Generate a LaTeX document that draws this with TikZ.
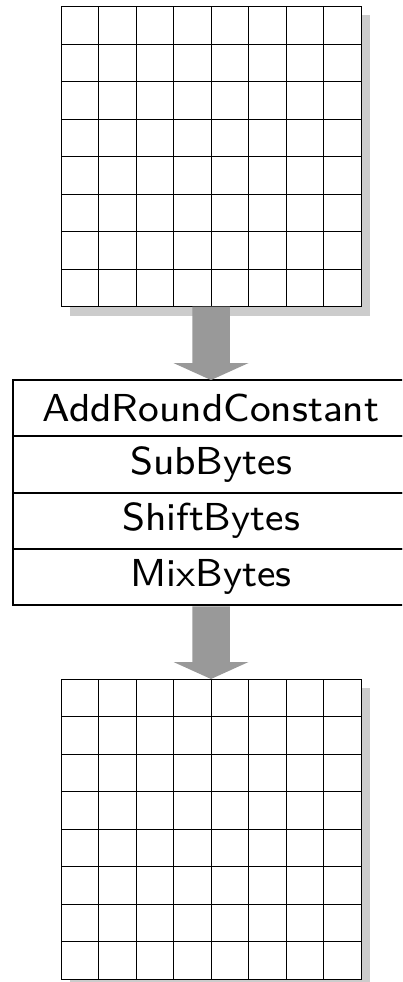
\documentclass[tikz,border=0pt]{standalone}
\usepackage{fontspec}
\usetikzlibrary{calc}
\newfontfamily\stepfont{lmsans8-regular.otf}
\definecolor{shadowgray}{HTML}{CCCCCC}
\definecolor{arrowgray}{HTML}{999999}
\tikzset{
  statebox/.style={draw=black, line width=0.8pt, fill=white, minimum size=300pt, inner sep=0pt, outer sep=0pt},
  gridline/.style={draw=black, line width=0.7pt},
  stepbox/.style={draw=black, line width=2.2pt, minimum width=396pt, minimum height=56.3pt, inner sep=0pt, outer sep=0pt,
                  font=\stepfont\fontsize{39}{39}\selectfont},
  flowarrow/.style={fill=arrowgray}
}
\begin{document}
\begin{tikzpicture}[x=1pt, y=-1pt]
  \useasboundingbox (0,0) rectangle (402,982);
  \clip (0,0) rectangle (402,982);

  % input and output state matrices
  \foreach \name/\cy in {gin/156.5, gout/829} {
    \fill[shadowgray] (220,\cy-141) rectangle (370,\cy+159);
    \fill[shadowgray] (70,\cy+150) rectangle (370,\cy+159);
    \node[statebox] (\name) at (211,\cy) {};
    \foreach \i in {1,...,7} {
      \draw[gridline] ($(\name.north west)!\i/8!(\name.north east)$) -- ($(\name.south west)!\i/8!(\name.south east)$);
      \draw[gridline] ($(\name.north west)!\i/8!(\name.south west)$) -- ($(\name.north east)!\i/8!(\name.south east)$);
    }
    \draw[line width=0.9pt] (\name.north west) rectangle (\name.south east);
  }

  % round transformation steps
  \node[stepbox] (arc) at (211,408.2) {AddRoundConstant};
  \node[stepbox] (sb)  at (211,464.5) {SubBytes};
  \node[stepbox] (shb) at (211,520.8) {ShiftBytes};
  \node[stepbox] (mb)  at (211,577.1) {MixBytes};

  % arrows between the stages
  \fill[flowarrow] ($(gin.south)+(-18.75,0)$) -- ($(arc.north)+(-18.75,-17)$) -- ($(arc.north)+(-37.5,-17)$)
    -- (arc.north) -- ($(arc.north)+(37.5,-17)$) -- ($(arc.north)+(18.75,-17)$) -- ($(gin.south)+(18.75,0)$) -- cycle;
  \fill[flowarrow] ($(mb.south)+(-18.75,1)$) -- ($(gout.north)+(-18.75,-17)$) -- ($(gout.north)+(-37.5,-17)$)
    -- (gout.north) -- ($(gout.north)+(37.5,-17)$) -- ($(gout.north)+(18.75,-17)$) -- ($(mb.south)+(18.75,1)$) -- cycle;
\end{tikzpicture}
\end{document}
